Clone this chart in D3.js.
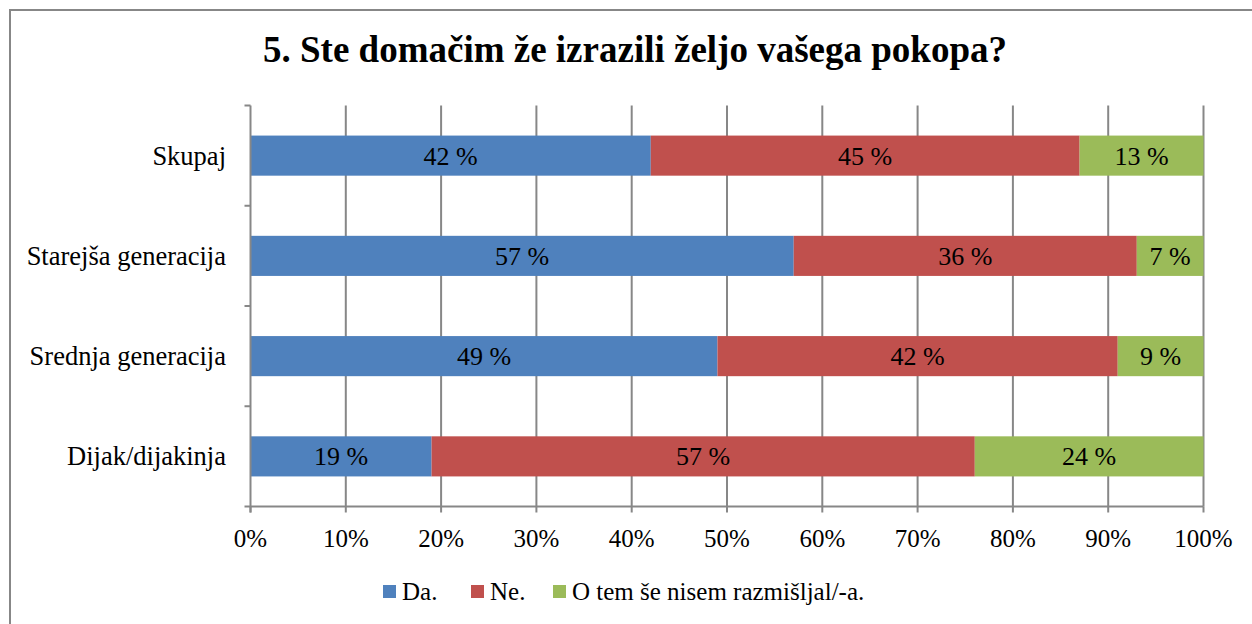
<!DOCTYPE html>
<html lang="sl">
<head>
<meta charset="UTF-8">
<title>5. Ste domačim že izrazili željo vašega pokopa?</title>
<script src="https://cdn.jsdelivr.net/npm/d3@7"></script>
<style>
  body { margin: 0; background: #fff; }
</style>
</head>
<body>
<script>
  // podatki
  const categories = ["Skupaj", "Starejša generacija", "Srednja generacija", "Dijak/dijakinja"];
  const seriesNames = ["Da.", "Ne.", "O tem še nisem razmišljal/-a."];
  const da = [42, 57, 49, 19];
  const ne = [45, 36, 42, 57];
  const oTem = [13, 7, 9, 24];
  const xTicks = [0, 10, 20, 30, 40, 50, 60, 70, 80, 90, 100];
  const colors = ["#4F81BD", "#C0504D", "#9BBB59"];

  const W = 1252, H = 624;
  const font = "'Liberation Serif', 'Times New Roman', serif";
  const fs = "25px";
  const svg = d3.select("body").append("svg").attr("width", W).attr("height", H)
    .attr("font-family", font);

  // okvir
  svg.append("rect")
    .attr("x", 10).attr("y", 10)
    .attr("width", W).attr("height", H)
    .attr("fill", "none").attr("stroke", "#878787").attr("stroke-width", 2);

  svg.append("text")
    .attr("x", 635).attr("y", 62)
    .attr("text-anchor", "middle")
    .style("font-size", "37px").style("font-weight", "bold")
    .text("5. Ste domačim že izrazili željo vašega pokopa?");

  const pLeft = 250.5, pRight = 1203.5, pTop = 105.5, pBottom = 506.5;

  const x = d3.scaleLinear().domain([0, 100]).range([pLeft, pRight]);
  const y = d3.scaleBand().domain(categories).range([pTop, pBottom]).paddingInner(0.6).paddingOuter(0.3);
  const yEdge = d3.scaleLinear().domain([0, categories.length]).range([pTop, pBottom]);

  // mreža
  svg.append("g").selectAll("line").data(xTicks.slice(1)).enter().append("line")
    .attr("x1", d => x(d)).attr("x2", d => x(d))
    .attr("y1", pTop).attr("y2", pBottom)
    .attr("stroke", "#878787").attr("stroke-width", 2);

  // stolpci
  const rows = categories.map((c, i) => [da[i], ne[i], oTem[i]]);
  const stack = d3.stack().keys([0, 1, 2])(rows);

  const layer = svg.append("g").selectAll("g").data(stack).enter().append("g")
    .attr("fill", (d, i) => colors[i]);

  layer.selectAll("rect").data(d => d).enter().append("rect")
    .attr("x", d => x(d[0]))
    .attr("y", (d, i) => y(categories[i]))
    .attr("width", d => x(d[1]) - x(d[0]))
    .attr("height", y.bandwidth());

  layer.selectAll("text").data(d => d).enter().append("text")
    .attr("x", d => (x(d[0]) + x(d[1])) / 2)
    .attr("y", (d, i) => y(categories[i]) + y.bandwidth() / 2 + 9)
    .attr("text-anchor", "middle")
    .attr("fill", "#000")
    .style("font-size", "26px")
    .text(d => (d[1] - d[0]) + " %");

  // osi
  const axisColor = "#878787";
  svg.append("line")
    .attr("x1", pLeft).attr("x2", pLeft).attr("y1", pTop).attr("y2", pBottom + 6)
    .attr("stroke", axisColor).attr("stroke-width", 2);
  svg.append("line")
    .attr("x1", pLeft - 6).attr("x2", pRight).attr("y1", pBottom).attr("y2", pBottom)
    .attr("stroke", axisColor).attr("stroke-width", 2);

  svg.append("g").selectAll("line").data(d3.range(categories.length)).enter().append("line")
    .attr("x1", pLeft - 6).attr("x2", pLeft)
    .attr("y1", d => yEdge(d)).attr("y2", d => yEdge(d))
    .attr("stroke", axisColor).attr("stroke-width", 2);

  svg.append("g").selectAll("line").data(xTicks).enter().append("line")
    .attr("x1", d => x(d)).attr("x2", d => x(d))
    .attr("y1", pBottom).attr("y2", pBottom + 6)
    .attr("stroke", axisColor).attr("stroke-width", 2);

  svg.append("g").selectAll("text").data(xTicks).enter().append("text")
    .attr("x", d => x(d)).attr("y", 547)
    .attr("text-anchor", "middle")
    .style("font-size", fs)
    .text(d => d + "%");

  svg.append("g").selectAll("text").data(categories).enter().append("text")
    .attr("x", 226)
    .attr("y", d => y(d) + y.bandwidth() / 2 + 9)
    .attr("text-anchor", "end")
    .style("font-size", "26.5px")
    .text(d => d);

  // legenda
  const legendX = [383, 471, 553];
  const leg = svg.append("g").selectAll("g").data(seriesNames).enter().append("g")
    .attr("transform", (d, i) => `translate(${legendX[i]},585)`);
  leg.append("rect").attr("width", 13).attr("height", 13).attr("fill", (d, i) => colors[i]);
  leg.append("text").attr("x", 19).attr("y", 15).style("font-size", fs).text(d => d);
</script>
</body>
</html>
